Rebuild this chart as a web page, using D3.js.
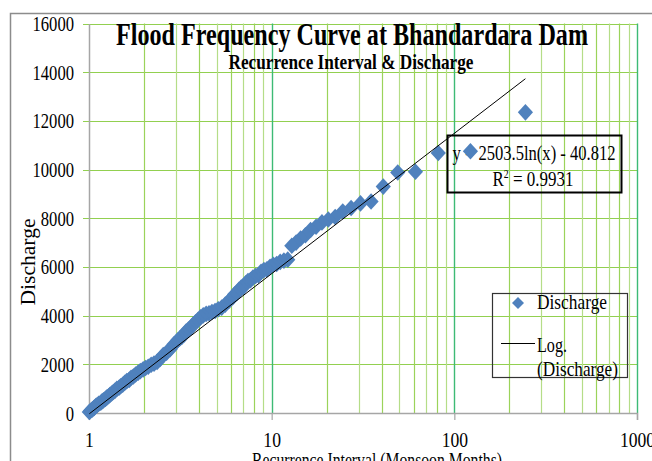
<!DOCTYPE html>
<html>
<head>
<meta charset="utf-8">
<script src="https://cdn.jsdelivr.net/npm/d3@7"></script>
<style>
body { margin: 0; background: #fff; }
svg { display: block; }
text { font-family: "Liberation Serif", "Times New Roman", serif; fill: #000; }
</style>
</head>
<body>
<svg id="chart" width="652" height="461"></svg>
<script>
// recurrence interval (monsoon months), one entry per plotted point
const recurrence = [
  245, 122.5, 81.67, 61.25, 49, 40.83, 35, 30.63, 27.22, 24.5,
  22.27, 20.42, 18.85, 17.5, 16.33, 15.31, 14.41, 13.61, 12.89, 12.25,
  11.67, 11.14, 10.65, 10.21, 9.8, 9.42, 9.07, 8.75, 8.45, 8.17,
  7.9, 7.66, 7.42, 7.21, 7.0, 6.81, 6.62, 6.45, 6.28, 6.13,
  5.83, 5.57, 5.33, 5.1, 4.9, 4.71, 4.54, 4.38, 4.22, 4.08,
  3.95, 3.83, 3.71, 3.6, 3.5, 3.4, 3.31, 3.22, 3.14, 3.06,
  2.92, 2.78, 2.66, 2.55, 2.45, 2.36, 2.27, 2.19, 2.11, 2.04,
  1.98, 1.91, 1.86, 1.8, 1.75, 1.7, 1.66, 1.61, 1.57, 1.53,
  1.49, 1.46, 1.42, 1.39, 1.36, 1.33, 1.3, 1.28, 1.25, 1.23,
  1.2, 1.18, 1.16, 1.13, 1.11, 1.09, 1.07, 1.06, 1.04, 1.02, 1.004
];
// discharge for each point above
const discharge = [
  12350, 10750, 10680, 9910, 9880, 9300, 8690, 8610, 8420, 8280,
  8050, 7950, 7830, 7650, 7520, 7300, 7170, 7000, 6870, 6300,
  6260, 6210, 6120, 6090, 6010, 5900, 5870, 5800, 5660, 5630,
  5560, 5460, 5420, 5330, 5180, 5150, 5060, 4930, 4880, 4760,
  4600, 4450, 4330, 4260, 4190, 4150, 4100, 4070, 4010, 3930,
  3820, 3730, 3620, 3500, 3430, 3350, 3220, 3120, 3060, 2990,
  2820, 2620, 2480, 2380, 2220, 2100, 2030, 1980, 1900, 1850,
  1790, 1720, 1660, 1580, 1500, 1450, 1360, 1310, 1240, 1160,
  1100, 1040, 990, 920, 860, 800, 740, 690, 630, 580,
  520, 480, 420, 380, 330, 290, 220, 190, 140, 90, 40
];

const yTicks = [0, 2000, 4000, 6000, 8000, 10000, 12000, 14000, 16000];
const xMajor = [1, 10, 100, 1000];
const xMinor = [2, 3, 4, 5, 6, 7, 8, 9, 20, 30, 40, 50, 60, 70, 80, 90,
                200, 300, 400, 500, 600, 700, 800, 900];
const trendCoef = [2503.5, -40.812];   // y = a ln(x) + b
const rSquared = 0.9931;

const svg = d3.select("#chart");

const x = d3.scaleLog().domain([1, 1000]).range([89, 637]);
const y = d3.scaleLinear().domain([0, 16000]).range([413, 23.5]);

// squash text horizontally, the original picture is stretched tall
function fit(sel, w) {
  sel.attr("textLength", w).attr("lengthAdjust", "spacingAndGlyphs");
}

// outer chart border (runs off the page on right and bottom)
svg.append("rect")
  .attr("x", 10.5).attr("y", 13.5)
  .attr("width", 700).attr("height", 500)
  .attr("fill", "none").attr("stroke", "#8c8c8c").attr("stroke-width", 1.5);

// gridlines
const grid = svg.append("g");
grid.selectAll(".hgrid")
  .data(yTicks.filter(d => d > 0))
  .enter().append("line")
  .attr("x1", 83).attr("x2", x(1000))
  .attr("y1", d => Math.round(y(d)) + 0.5).attr("y2", d => Math.round(y(d)) + 0.5)
  .attr("stroke", "#92d050").attr("stroke-width", 1.2);

grid.selectAll(".vminor")
  .data(xMinor)
  .enter().append("line")
  .attr("x1", d => Math.round(x(d)) + 0.5).attr("x2", d => Math.round(x(d)) + 0.5)
  .attr("y1", y(16000)).attr("y2", y(0))
  .attr("stroke", (d, i) => i % 2 ? "#b5dd88" : "#9bd35a").attr("stroke-width", 1.2);

grid.selectAll(".vmajor")
  .data(xMajor.filter(d => d > 1))
  .enter().append("line")
  .attr("x1", d => Math.round(x(d)) + 0.5).attr("x2", d => Math.round(x(d)) + 0.5)
  .attr("y1", y(16000)).attr("y2", y(0))
  .attr("stroke", "#3dbb75").attr("stroke-width", 1.4);

// axes
const xAxis = svg.append("g")
  .attr("transform", `translate(0,${y(0)})`)
  .call(d3.axisBottom(x).tickValues(xMajor).tickFormat(d3.format("d")).tickSize(7).tickPadding(11));
xAxis.select(".domain").attr("stroke", "#a6a6a6").attr("stroke-width", 1.5);
xAxis.selectAll(".tick line").attr("stroke", "#a6a6a6").attr("stroke-width", 1.2);
xAxis.selectAll(".tick text")
  .attr("font-family", "Liberation Serif").attr("font-size", 22)
  .each(function(d) { fit(d3.select(this), String(d).length * 8.8); });

const yAxis = svg.append("g")
  .attr("transform", `translate(${x(1)},0)`)
  .call(d3.axisLeft(y).tickValues(yTicks).tickFormat(d3.format("d")).tickSize(0).tickPadding(15));
yAxis.select(".domain").attr("stroke", "#a6a6a6").attr("stroke-width", 1.5);
yAxis.selectAll(".tick text")
  .attr("font-family", "Liberation Serif").attr("font-size", 22)
  .each(function(d) { fit(d3.select(this), String(d).length * 8.3); });

// titles
svg.append("text")
  .attr("x", 352).attr("y", 45)
  .attr("text-anchor", "middle")
  .attr("font-size", 31).attr("font-weight", "bold")
  .text("Flood Frequency Curve at Bhandardara  Dam")
  .call(fit, 472);

svg.append("text")
  .attr("x", 351).attr("y", 69)
  .attr("text-anchor", "middle")
  .attr("font-size", 21).attr("font-weight", "bold")
  .text("Recurrence Interval & Discharge")
  .call(fit, 245);

svg.append("text")
  .attr("transform", "translate(35,262) rotate(-90)")
  .attr("text-anchor", "middle")
  .attr("font-size", 22)
  .text("Discharge")
  .call(fit, 87);

svg.append("text")
  .attr("x", 377).attr("y", 467)
  .attr("text-anchor", "middle")
  .attr("font-size", 22)
  .text("Recurrence Interval (Monsoon Months)")
  .call(fit, 250);

// trendline equation box
svg.append("rect")
  .attr("x", 447.5).attr("y", 135.5)
  .attr("width", 174).attr("height", 57)
  .attr("fill", "none").attr("stroke", "#000").attr("stroke-width", 2);

svg.append("text")
  .attr("x", 534).attr("y", 160)
  .attr("text-anchor", "middle")
  .attr("font-family", "Liberation Sans").attr("font-size", 21)
  .text(`y = ${trendCoef[0]}ln(x) - ${Math.abs(trendCoef[1])}`)
  .call(fit, 163);

const r2 = svg.append("text")
  .attr("x", 533).attr("y", 186)
  .attr("text-anchor", "middle")
  .attr("font-family", "Liberation Sans").attr("font-size", 21);
r2.append("tspan").text("R");
r2.append("tspan").attr("font-size", 12).attr("dy", -8).text("2");
r2.append("tspan").attr("dy", 8).text(` = ${rSquared}`);
r2.call(fit, 81);

// scatter points
const diamond = "M0,-8.3L7.6,0L0,8.3L-7.6,0Z";
const points = recurrence.map((t, i) => ({ t: t, q: discharge[i] }));

svg.append("g")
  .selectAll("path")
  .data(points)
  .enter().append("path")
  .attr("d", diamond)
  .attr("transform", d => `translate(${x(d.t)},${y(d.q)})`)
  .attr("fill", "#4f81bd");

// logarithmic trendline across the data range
const tRange = d3.extent(recurrence);
const trend = tRange.map(t => ({ t: t, q: trendCoef[0] * Math.log(t) + trendCoef[1] }));

svg.append("path")
  .datum(trend)
  .attr("fill", "none")
  .attr("stroke", "#000")
  .attr("stroke-width", 1)
  .attr("d", d3.line().x(d => x(d.t)).y(d => y(d.q)));

// legend
const legend = svg.append("g");
legend.append("rect")
  .attr("x", 492.5).attr("y", 293.5)
  .attr("width", 135).attr("height", 84)
  .attr("fill", "none").attr("stroke", "#333").attr("stroke-width", 1.2);

legend.append("path")
  .attr("d", "M0,-6L6,0L0,6L-6,0Z")
  .attr("transform", "translate(518,303)")
  .attr("fill", "#4f81bd");

legend.append("text")
  .attr("x", 537).attr("y", 309)
  .attr("font-size", 21)
  .text("Discharge")
  .call(fit, 70);

legend.append("line")
  .attr("x1", 501).attr("x2", 535)
  .attr("y1", 343.5).attr("y2", 343.5)
  .attr("stroke", "#000").attr("stroke-width", 1);

legend.append("text")
  .attr("x", 537).attr("y", 352)
  .attr("font-size", 21)
  .text("Log.")
  .call(fit, 30);

legend.append("text")
  .attr("x", 537).attr("y", 376)
  .attr("font-size", 21)
  .text("(Discharge)")
  .call(fit, 81);
</script>
</body>
</html>
